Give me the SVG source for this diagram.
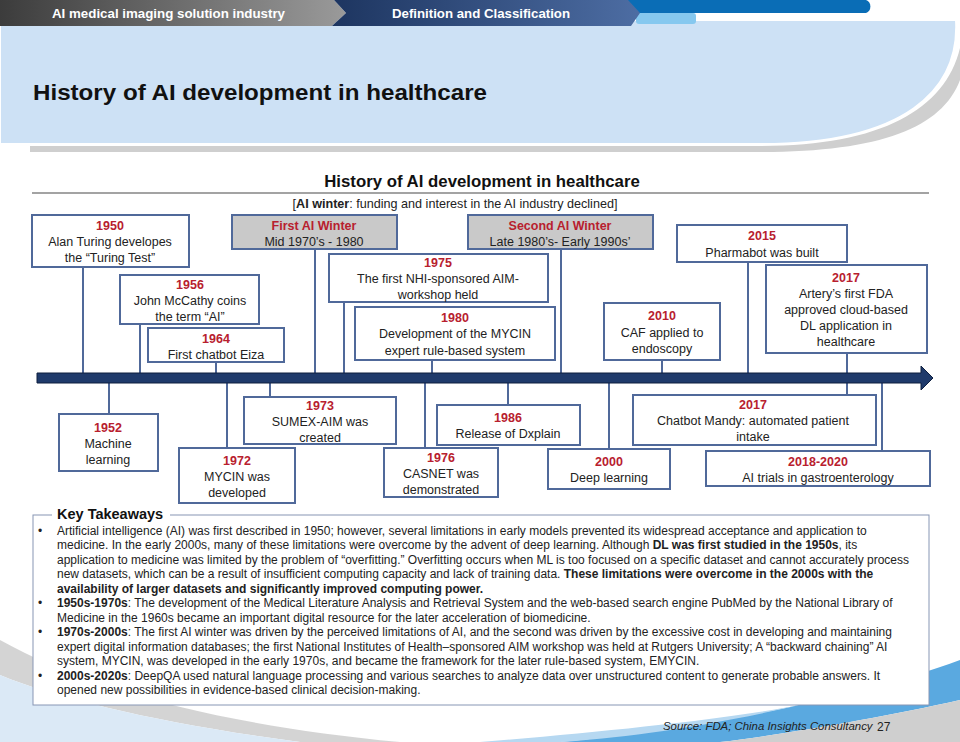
<svg xmlns="http://www.w3.org/2000/svg" width="960" height="742" viewBox="0 0 960 742">
<defs>
<linearGradient id="gGrey" x1="0" y1="0" x2="1" y2="0"><stop offset="0" stop-color="#3c3c3c"/><stop offset="1" stop-color="#9a9a9a"/></linearGradient>
<linearGradient id="gNavy" x1="0" y1="0" x2="1" y2="0"><stop offset="0" stop-color="#1d3560"/><stop offset="1" stop-color="#4d6da3"/></linearGradient>
<style>
text{font-family:"Liberation Sans",Arial,sans-serif;}
.hd{font-size:13px;font-weight:bold;fill:#fff;}
.box{fill:#fff;stroke:#50699a;stroke-width:2;}
.win{fill:#c9c9c9;stroke:#50699a;stroke-width:2;}
.yr{font-size:12.5px;font-weight:bold;fill:#b8202e;text-anchor:middle;}
.tx{font-size:12.5px;fill:#222;text-anchor:middle;}
.cn{stroke:#50699a;stroke-width:2;fill:none;}
.kt{font-size:12px;fill:#222;}
.b{font-weight:bold;}
</style>
</defs>
<rect width="960" height="742" fill="#fff"/>
<!-- background -->
<path d="M30,146 H760 C880,146 945,110 960,48 V80 C942,128 880,152 760,152 H30 Z" fill="#cfcfcf"/>
<path d="M0,20 H956 C960,90 905,144 760,144 H0 Z" fill="#cde1f5" stroke="#fff" stroke-width="2"/>
<path d="M0,640 C90,690 220,725 400,742 L300,742 C170,725 60,700 0,675 Z" fill="#c9c9c9" opacity="0.8"/>
<path d="M0,675 C60,700 170,725 300,742 L0,742 Z" fill="#dbe9f6"/>
<path d="M560,742 C700,728 850,700 960,660 V700 C880,718 780,735 720,742 Z" fill="#5aa9e0"/>
<path d="M720,742 C780,735 880,718 960,700 V742 Z" fill="#cfcfcf"/>
<path d="M480,742 C600,732 720,720 800,705 C700,728 620,738 560,742 Z" fill="#b6d8f1"/>
<!-- header -->
<g id="header">
<path d="M625,0 H866 A7,7 0 0 1 866,13 H625 Z" fill="#0a6db6"/>
<rect x="636" y="13" width="60" height="11" rx="3" fill="#86c8ef"/>
<path d="M0,0 H334 L346,13 L332,26 H0 Z" fill="url(#gGrey)"/>
<path d="M334,0 H628 L640,13 L631,26 H332 L346,13 Z" fill="url(#gNavy)"/>
<text class="hd" x="52" y="18" textLength="233" lengthAdjust="spacingAndGlyphs">AI medical imaging solution industry</text>
<text class="hd" x="392" y="18" textLength="178" lengthAdjust="spacingAndGlyphs">Definition and Classification</text>
</g>
<text x="33" y="100" font-size="22" font-weight="bold" fill="#111" textLength="454" lengthAdjust="spacingAndGlyphs">History of AI development in healthcare</text>
<!-- chart title -->
<text x="482" y="187" font-size="16.8" font-weight="bold" fill="#111" text-anchor="middle">History of AI development in healthcare</text>
<line x1="32" y1="193" x2="929" y2="193" stroke="#a3a3a3" stroke-width="2"/>
<text x="455" y="208" font-size="12.6" fill="#222" text-anchor="middle">[<tspan class="b">AI winter</tspan>: funding and interest in the AI industry declined]</text>
<!-- connectors -->
<g id="connectors">
<line class="cn" x1="83" y1="267" x2="83" y2="374"/>
<line class="cn" x1="140" y1="324" x2="140" y2="374"/>
<line class="cn" x1="216" y1="362" x2="216" y2="374"/>
<line class="cn" x1="315" y1="249" x2="315" y2="374"/>
<line class="cn" x1="344" y1="302" x2="344" y2="374"/>
<line class="cn" x1="432" y1="360" x2="432" y2="374"/>
<line class="cn" x1="561" y1="249" x2="561" y2="374"/>
<line class="cn" x1="662" y1="360" x2="662" y2="374"/>
<line class="cn" x1="748" y1="262" x2="748" y2="374"/>
<line class="cn" x1="847" y1="353" x2="847" y2="374"/>
<line class="cn" x1="109" y1="382" x2="109" y2="414"/>
<line class="cn" x1="227" y1="382" x2="227" y2="448"/>
<line class="cn" x1="270" y1="382" x2="270" y2="397"/>
<line class="cn" x1="425" y1="382" x2="425" y2="448"/>
<line class="cn" x1="508" y1="382" x2="508" y2="405"/>
<line class="cn" x1="609" y1="382" x2="609" y2="449"/>
<line class="cn" x1="847" y1="382" x2="847" y2="395"/>
<line class="cn" x1="882" y1="382" x2="882" y2="451"/>
</g>
<g id="timeline">
<path d="M37,373 H921 V366 L933,378 L921,390 V383 H37 Z" fill="#1f3a6b" stroke="#0e1f3f" stroke-width="1"/>
</g>
<!-- top nodes -->
<g id="n1950"><rect class="box" x="32" y="215" width="157" height="52"/>
<text class="yr" x="110" y="230">1950</text><text class="tx" x="110" y="246">Alan Turing developes</text><text class="tx" x="110" y="262">the “Turing Test”</text></g>
<g id="winter1"><rect class="win" x="232" y="215" width="165" height="34"/>
<text class="yr" x="314" y="230">First AI Winter</text><text class="tx" x="314" y="246">Mid 1970’s - 1980</text></g>
<g id="n1956"><rect class="box" x="120" y="275" width="139" height="49"/>
<text class="yr" x="190" y="289">1956</text><text class="tx" x="190" y="305">John McCathy coins</text><text class="tx" x="190" y="321">the term “AI”</text></g>
<g id="n1964"><rect class="box" x="148" y="328" width="136" height="34"/>
<text class="yr" x="216" y="343">1964</text><text class="tx" x="216" y="359">First chatbot Eiza</text></g>
<g id="n1975"><rect class="box" x="329" y="254" width="219" height="48"/>
<text class="yr" x="438" y="267">1975</text><text class="tx" x="438" y="283">The first NHI-sponsored AIM-</text><text class="tx" x="438" y="299">workshop held</text></g>
<g id="n1980"><rect class="box" x="355" y="307" width="200" height="53"/>
<text class="yr" x="455" y="322">1980</text><text class="tx" x="455" y="338">Development of the MYCIN</text><text class="tx" x="455" y="355">expert rule-based system</text></g>
<g id="winter2"><rect class="win" x="468" y="215" width="185" height="34"/>
<text class="yr" x="560" y="230">Second AI Winter</text><text class="tx" x="560" y="246">Late 1980’s- Early 1990s’</text></g>
<g id="n2010"><rect class="box" x="604" y="303" width="116" height="57"/>
<text class="yr" x="662" y="320">2010</text><text class="tx" x="662" y="337">CAF applied to</text><text class="tx" x="662" y="353">endoscopy</text></g>
<g id="n2015"><rect class="box" x="677" y="225" width="170" height="37"/>
<text class="yr" x="762" y="240">2015</text><text class="tx" x="762" y="257">Pharmabot was built</text></g>
<g id="n2017a"><rect class="box" x="766" y="265" width="161" height="88"/>
<text class="yr" x="846" y="282">2017</text><text class="tx" x="846" y="298">Artery’s first FDA</text><text class="tx" x="846" y="314">approved cloud-based</text><text class="tx" x="846" y="330">DL application in</text><text class="tx" x="846" y="346">healthcare</text></g>
<!-- bottom nodes -->
<g id="n1952"><rect class="box" x="59" y="414" width="99" height="57"/>
<text class="yr" x="108" y="432">1952</text><text class="tx" x="108" y="448">Machine</text><text class="tx" x="108" y="464">learning</text></g>
<g id="n1972"><rect class="box" x="179" y="448" width="116" height="55"/>
<text class="yr" x="237" y="465">1972</text><text class="tx" x="237" y="481">MYCIN was</text><text class="tx" x="237" y="497">developed</text></g>
<g id="n1973"><rect class="box" x="244" y="397" width="152" height="47"/>
<text class="yr" x="320" y="410">1973</text><text class="tx" x="320" y="426">SUMEX-AIM was</text><text class="tx" x="320" y="442">created</text></g>
<g id="n1976"><rect class="box" x="384" y="448" width="114" height="49"/>
<text class="yr" x="441" y="462">1976</text><text class="tx" x="441" y="478">CASNET was</text><text class="tx" x="441" y="494">demonstrated</text></g>
<g id="n1986"><rect class="box" x="437" y="405" width="143" height="40"/>
<text class="yr" x="508" y="422">1986</text><text class="tx" x="508" y="438">Release of Dxplain</text></g>
<g id="n2000"><rect class="box" x="548" y="449" width="122" height="40"/>
<text class="yr" x="609" y="466">2000</text><text class="tx" x="609" y="482">Deep learning</text></g>
<g id="n2017b"><rect class="box" x="633" y="395" width="243" height="50"/>
<text class="yr" x="753" y="409">2017</text><text class="tx" x="753" y="425">Chatbot Mandy: automated patient</text><text class="tx" x="753" y="441">intake</text></g>
<g id="n2018"><rect class="box" x="706" y="451" width="224" height="35"/>
<text class="yr" x="818" y="466">2018-2020</text><text class="tx" x="818" y="482">AI trials in gastroenterology</text></g>
<!-- key takeaways -->
<g id="takeaways">
<rect x="33" y="515" width="896" height="190" fill="#fff" stroke="#8796b4" stroke-width="1"/>
<rect x="52" y="508" width="118" height="12" fill="#fff"/>
<text x="57" y="519" font-size="14.5" font-weight="bold" fill="#111">Key Takeaways</text>
<text class="kt" x="38" y="535">•</text>
<text class="kt" x="57" y="535">Artificial intelligence (AI) was first described in 1950; however, several limitations in early models prevented its widespread acceptance and application to</text>
<text class="kt" x="57" y="549">medicine. In the early 2000s, many of these limitations were overcome by the advent of deep learning. Although <tspan class="b">DL was first studied in the 1950s</tspan>, its</text>
<text class="kt" x="57" y="564">application to medicine was limited by the problem of “overfitting.” Overfitting occurs when ML is too focused on a specific dataset and cannot accurately process</text>
<text class="kt" x="57" y="578">new datasets, which can be a result of insufficient computing capacity and lack of training data. <tspan class="b">These limitations were overcome in the 2000s with the</tspan></text>
<text class="kt b" x="57" y="593">availability of larger datasets and significantly improved computing power.</text>
<text class="kt" x="38" y="607">•</text>
<text class="kt" x="57" y="607"><tspan class="b">1950s-1970s</tspan>: The development of the Medical Literature Analysis and Retrieval System and the web-based search engine PubMed by the National Library of</text>
<text class="kt" x="57" y="622">Medicine in the 1960s became an important digital resource for the later acceleration of biomedicine.</text>
<text class="kt" x="38" y="636">•</text>
<text class="kt" x="57" y="636"><tspan class="b">1970s-2000s</tspan>: The first AI winter was driven by the perceived limitations of AI, and the second was driven by the excessive cost in developing and maintaining</text>
<text class="kt" x="57" y="651">expert digital information databases; the first National Institutes of Health–sponsored AIM workshop was held at Rutgers University; A “backward chaining” AI</text>
<text class="kt" x="57" y="665">system, MYCIN, was developed in the early 1970s, and became the framework for the later rule-based system, EMYCIN.</text>
<text class="kt" x="38" y="680">•</text>
<text class="kt" x="57" y="680"><tspan class="b">2000s-2020s</tspan>: DeepQA used natural language processing and various searches to analyze data over unstructured content to generate probable answers. It</text>
<text class="kt" x="57" y="694">opened new possibilities in evidence-based clinical decision-making.</text>
</g>
<text x="663" y="730" font-size="11.4" font-style="italic" fill="#222">Source: FDA; China Insights Consultancy</text>
<text x="877" y="731" font-size="12" fill="#222">27</text>
</svg>
